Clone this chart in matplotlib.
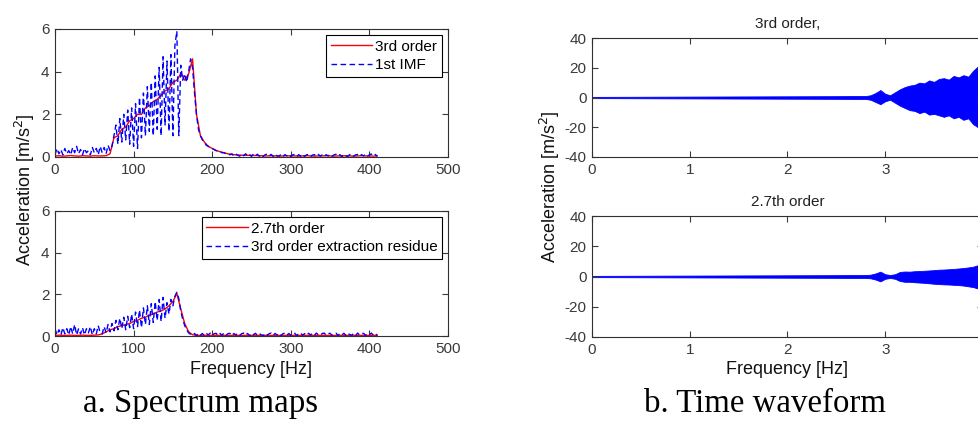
import numpy as np
import matplotlib.pyplot as plt

# ---- spectrum data ----
# top: 3rd order (5 Hz bins) and 1st IMF (2.5 Hz bins)
order3 = [0.05, 0.06, 0.04, 0.05, 0.07, 0.05, 0.04, 0.06, 0.05, 0.04, 0.06, 0.05, 0.05, 0.06,
          0.15, 0.9, 1.0, 1.3, 1.4, 1.7, 1.8, 2.0, 2.0, 2.3,
          2.4, 2.6, 2.7, 2.9, 3.1, 3.2, 3.5, 3.6, 3.9, 3.6,
          3.9, 4.6, 2.0, 1.0, 0.7, 0.5, 0.4, 0.3, 0.25, 0.2,
          0.15, 0.12, 0.1, 0.09, 0.08, 0.08, 0.07, 0.07, 0.06, 0.06,
          0.05, 0.06, 0.05, 0.04, 0.05, 0.06, 0.05, 0.05, 0.04, 0.05,
          0.06, 0.05, 0.04, 0.05, 0.05, 0.06, 0.05, 0.04, 0.05, 0.05,
          0.06, 0.05, 0.04, 0.05, 0.06, 0.05, 0.05, 0.04, 0.05]

imf1 = [0.1, 0.4, 0.15, 0.35, 0.1, 0.4, 0.15, 0.3, 0.1, 0.45,
        0.2, 0.5, 0.15, 0.35, 0.1, 0.4, 0.2, 0.3, 0.1, 0.45,
        0.2, 0.4, 0.1, 0.5, 0.2, 0.45, 0.15, 0.55, 0.3,
        0.5, 1.0, 1.5, 0.6, 1.8, 0.7, 2.0, 0.8, 2.2, 0.6,
        2.3, 0.5, 2.5, 0.4, 2.8, 0.9, 3.0, 1.0, 3.3, 1.2,
        3.5, 1.0, 3.8, 1.3, 4.2, 1.0, 4.7, 1.5, 4.5, 1.2,
        4.8, 1.0, 5.2, 5.9, 1.0, 4.3, 3.6, 3.9, 3.5, 4.0,
        4.6, 4.2, 3.0, 2.0, 1.3, 1.0, 0.8, 0.7, 0.55, 0.5,
        0.45, 0.4, 0.35, 0.3, 0.3, 0.25, 0.2, 0.2, 0.15, 0.15,
        0.1, 0.15, 0.05, 0.14, 0.08, 0.04, 0.14, 0.06, 0.15, 0.05,
        0.12, 0.03, 0.14, 0.06, 0.13, 0.04, 0.12, 0.02, 0.11, 0.14,
        0.05, 0.12, 0.03, 0.13, 0.06, 0.04, 0.12, 0.02, 0.11, 0.05,
        0.13, 0.03, 0.1, 0.12, 0.02, 0.11, 0.04, 0.13, 0.03, 0.1,
        0.12, 0.02, 0.09, 0.11, 0.03, 0.12, 0.04, 0.1, 0.02, 0.11,
        0.05, 0.12, 0.03, 0.1, 0.13, 0.04, 0.11, 0.02, 0.12, 0.05,
        0.03, 0.11, 0.14, 0.04, 0.1, 0.12, 0.03, 0.11, 0.05, 0.13,
        0.04, 0.1, 0.14, 0.05, 0.12, 0.03]

# bottom: 2.7th order (5 Hz bins) and 3rd order extraction residue (2.5 Hz bins)
order27 = [0.03, 0.04, 0.03, 0.03, 0.04, 0.03, 0.03, 0.04, 0.03, 0.03, 0.04, 0.05,
           0.1, 0.2, 0.3, 0.35, 0.45, 0.5, 0.55, 0.6, 0.7, 0.75,
           0.85, 0.9, 1.0, 1.05, 1.15, 1.2, 1.3, 1.45, 1.65, 2.05,
           1.3, 0.6, 0.2, 0.06,
           0.03, 0.03, 0.03, 0.03, 0.03, 0.03, 0.03, 0.03, 0.03, 0.03,
           0.03, 0.03, 0.03, 0.03, 0.03, 0.03, 0.03, 0.03, 0.03, 0.03,
           0.03, 0.03, 0.03, 0.03, 0.03, 0.03, 0.03, 0.03, 0.03, 0.03,
           0.03, 0.03, 0.03, 0.03, 0.03, 0.03, 0.03, 0.03, 0.03, 0.03,
           0.03, 0.03, 0.03, 0.03, 0.03, 0.03, 0.03]

residue = [0.35, 0.05, 0.3, 0.05, 0.4, 0.1, 0.35, 0.05, 0.45, 0.1, 0.55, 0.05,
           0.35, 0.1, 0.4, 0.05, 0.35, 0.15, 0.45, 0.05, 0.35, 0.1, 0.5, 0.15,
           0.1, 0.45, 0.15, 0.55, 0.2, 0.6, 0.25, 0.75, 0.3, 0.85,
           0.35, 0.9, 0.3, 0.95, 0.4, 1.05, 0.35, 1.15, 0.45, 1.25,
           0.4, 1.35, 0.55, 1.45, 0.55, 1.55, 0.65, 1.65, 0.75, 1.75,
           0.7, 1.85, 0.85, 1.6, 1.05, 1.75, 1.45, 1.9, 2.1, 1.8,
           1.2, 0.8, 0.5, 0.3, 0.15, 0.08, 0.05,
           0.12, 0.02, 0.13, 0.04, 0.12, 0.02, 0.13, 0.05, 0.14, 0.03,
           0.11, 0.13, 0.02, 0.12, 0.04, 0.14, 0.03, 0.11, 0.13, 0.02,
           0.12, 0.05, 0.13, 0.03, 0.11, 0.14, 0.04, 0.12, 0.02, 0.13,
           0.06, 0.13, 0.03, 0.12, 0.05, 0.02, 0.13, 0.04, 0.11, 0.14,
           0.03, 0.12, 0.05, 0.13, 0.02, 0.11, 0.14, 0.04, 0.12, 0.03,
           0.1, 0.13, 0.02, 0.12, 0.14, 0.04, 0.11, 0.03, 0.13, 0.05,
           0.12, 0.02, 0.14, 0.06, 0.03, 0.12, 0.14, 0.04, 0.11, 0.13,
           0.03, 0.1, 0.14, 0.02, 0.12, 0.05, 0.13, 0.03, 0.14, 0.06,
           0.04, 0.12, 0.02, 0.14, 0.05, 0.11, 0.13, 0.03, 0.12, 0.06,
           0.14, 0.04, 0.12, 0.03]

# ---- time waveform envelopes ----
t_env = [0, 0.5, 1.0, 1.5, 2.0, 2.5, 2.8, 2.85, 2.9, 2.95, 3.0, 3.05, 3.1, 3.15, 3.2,
         3.25, 3.3, 3.35, 3.4, 3.45, 3.5, 3.55, 3.6, 3.65, 3.7, 3.75, 3.8, 3.85, 3.9,
         3.95, 4.0]
o3_hi = [0.4, 0.5, 0.6, 0.7, 0.8, 0.9, 1.0, 1.5, 3.0, 5.0, 2.5, 1.5, 3.5, 5.5, 7.0,
         8.0, 8.5, 10.0, 9.5, 11.5, 10.5, 12.5, 13.0, 12.0, 14.5, 13.5, 15.0, 14.0, 18.0,
         21.0, 22.0]
o3_lo = [-0.4, -0.5, -0.6, -0.7, -0.8, -0.9, -1.0, -1.5, -3.0, -4.5, -2.5, -1.5, -3.5, -5.5, -7.0,
         -8.5, -9.0, -10.5, -9.5, -11.5, -11.0, -12.0, -13.0, -12.0, -14.0, -13.0, -15.0, -14.0, -18.0,
         -20.0, -21.0]
o27_hi = [0.4, 0.5, 0.6, 0.7, 0.8, 0.9, 1.0, 1.2, 2.0, 3.2, 1.5, 1.0, 1.5, 3.0, 3.3,
          3.2, 3.5, 3.6, 3.8, 4.0, 4.2, 4.5, 4.6, 4.8, 5.0, 5.3, 5.6, 6.0, 6.5,
          7.5, 8.0]
o27_lo = [-0.4, -0.5, -0.6, -0.7, -0.8, -0.9, -1.0, -1.2, -2.0, -3.2, -1.5, -1.0, -1.5, -3.0, -3.5,
          -3.5, -3.8, -4.0, -4.2, -4.5, -4.8, -5.0, -5.2, -5.3, -5.5, -5.7, -6.0, -6.5, -7.0,
          -8.0, -9.0]

plt.rcParams['font.family'] = ['Liberation Sans', 'DejaVu Sans']
plt.rcParams['axes.unicode_minus'] = False
tick_col = '#3a3a3a'

fig = plt.figure(figsize=(9.79, 4.34), dpi=100)
W, H = 979.0, 434.0


def box(x0, y0, x1, y1):
    return [x0 / W, 1 - y1 / H, (x1 - x0) / W, (y1 - y0) / H]


def style(ax):
    ax.tick_params(direction='in', top=True, right=True, length=4, width=0.8,
                   labelsize=11, colors=tick_col, pad=4)
    for s in ax.spines.values():
        s.set_color('#303030')
        s.set_linewidth(0.8)


ax1 = fig.add_axes(box(55, 29, 448, 157))
ax2 = fig.add_axes(box(55, 211, 448, 336))
ax3 = fig.add_axes(box(592, 38, 983, 157))
ax4 = fig.add_axes(box(592, 216, 983, 337))

f5 = 5 * np.arange(len(order3))
f25 = 2.5 * np.arange(len(imf1))
ax1.plot(f5, order3, color='#ff0000', lw=1, label='3rd order')
ax1.plot(f25, imf1, color='#0000ff', lw=1, ls=(0, (4, 2.5)), label='1st IMF')

f5b = 5 * np.arange(len(order27))
f25b = 2.5 * np.arange(len(residue))
ax2.plot(f5b, order27, color='#ff0000', lw=1, label='2.7th order')
ax2.plot(f25b, residue, color='#0000ff', lw=1, ls=(0, (4, 2.5)), label='3rd order extraction residue')

for ax in (ax1, ax2):
    ax.set_xlim(0, 500)
    ax.set_ylim(0, 6)
    ax.set_xticks([0, 100, 200, 300, 400, 500])
    ax.set_yticks([0, 2, 4, 6])
    style(ax)
    leg = ax.legend(loc='upper right', fontsize=11, frameon=True, fancybox=False,
                    framealpha=1, edgecolor='black', handlelength=2.7,
                    borderaxespad=0.4, labelspacing=0.3, borderpad=0.3,
                    handletextpad=0.2)
    leg.get_frame().set_linewidth(0.8)

ax3.fill_between(t_env, o3_lo, o3_hi, color='#0000ff', lw=0.6)
ax4.fill_between(t_env, o27_lo, o27_hi, color='#0000ff', lw=0.6)
ax3.set_title('3rd order,', fontsize=11, color='#222222', pad=7)
ax4.set_title('2.7th order', fontsize=11, color='#222222', pad=7)
for ax in (ax3, ax4):
    ax.set_xlim(0, 4)
    ax.set_ylim(-40, 40)
    ax.set_xticks([0, 1, 2, 3])
    ax.set_yticks([-40, -20, 0, 20, 40])
    style(ax)

lab = dict(fontsize=13, color='#111111', ha='center', va='center')
fig.text(25 / W, 1 - 190 / H, 'Acceleration [m/s$^2$]', rotation=90, **lab)
fig.text(550 / W, 1 - 187 / H, 'Acceleration [m/s$^2$]', rotation=90, **lab)
fig.text(251 / W, 1 - 369 / H, 'Frequency [Hz]', **lab)
fig.text(787 / W, 1 - 369 / H, 'Frequency [Hz]', **lab)

cap = dict(fontsize=23.7, family='Liberation Serif', color='black', ha='center', va='center')
fig.text(201 / W, 1 - 404 / H, 'a. Spectrum maps', **cap)
fig.text(765 / W, 1 - 404 / H, 'b. Time waveform', **cap)

fig.savefig('out.png', dpi=100)
